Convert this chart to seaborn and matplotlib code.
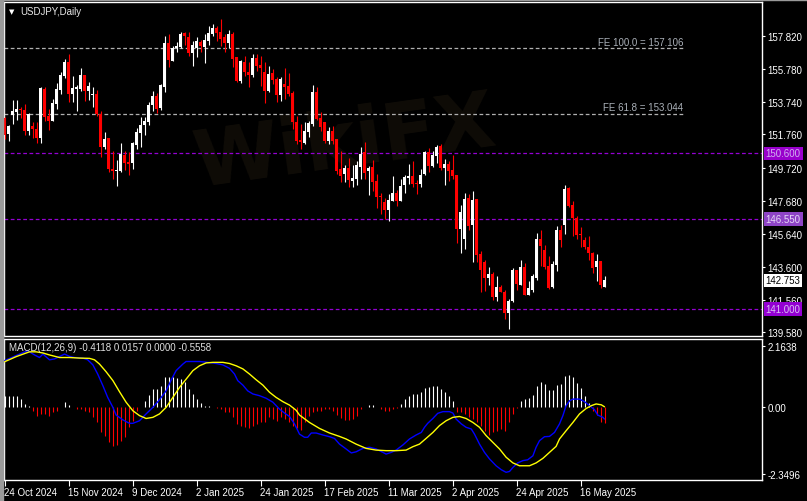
import matplotlib
matplotlib.use("Agg")
import matplotlib.pyplot as plt
from matplotlib.patches import Rectangle
import seaborn as sns

# daily candles, 24 Oct 2024 .. 26 May 2025
opens = [152.78, 151.79, 152.99, 153.17, 153.34, 153.27, 152.00, 152.29, 152.08, 151.55,
         154.57, 152.90, 152.62, 153.64, 154.53, 155.35, 156.22, 154.26, 154.59, 154.57,
         155.43, 154.47, 154.18, 154.26, 153.03, 151.01, 151.55, 149.63, 149.53, 149.53,
         150.52, 150.08, 149.98, 151.11, 151.87, 152.35, 152.51, 153.60, 154.16, 153.38,
         154.71, 157.41, 156.32, 157.08, 157.14, 158.03, 157.80, 156.79, 157.10, 157.47,
         157.18, 157.55, 157.97, 158.34, 158.07, 157.80, 157.41, 157.97, 156.53, 155.08,
         156.22, 155.60, 155.43, 156.48, 156.05, 155.60, 154.43, 155.54, 155.19, 154.20,
         154.88, 154.78, 154.32, 152.55, 151.44, 151.24, 151.94, 152.41, 154.41, 152.76,
         152.51, 151.38, 152.00, 151.48, 149.63, 149.32, 149.69, 148.91, 149.01, 149.78,
         150.70, 149.53, 149.78, 148.91, 147.99, 147.57, 147.10, 147.68, 148.13, 147.68,
         148.67, 149.08, 149.20, 148.77, 148.71, 149.32, 150.70, 149.84, 150.46, 151.07,
         149.69, 149.94, 149.57, 149.26, 145.93, 145.31, 147.84, 146.20, 147.78, 144.39,
         143.91, 142.90, 143.15, 141.71, 142.37, 142.06, 140.74, 141.46, 143.40, 142.49,
         143.56, 141.85, 142.16, 142.90, 145.31, 144.63, 143.67, 142.33, 143.73, 145.87,
         146.20, 148.46, 147.41, 146.61, 145.62, 145.25, 144.84, 144.43, 143.60, 143.97,
         142.37]
highs = [152.86, 152.35, 153.89, 153.89, 153.48, 153.64, 153.11, 152.51, 152.51, 154.71,
         154.67, 153.34, 153.95, 154.94, 155.64, 156.42, 156.73, 155.39, 154.84, 155.87,
         155.43, 155.02, 154.67, 154.51, 153.23, 151.94, 151.55, 150.76, 150.19, 151.24,
         150.76, 150.70, 151.28, 152.16, 152.82, 152.82, 153.75, 154.47, 154.30, 154.88,
         157.84, 157.97, 157.25, 157.49, 158.07, 158.07, 158.07, 157.55, 157.80, 157.60,
         157.97, 158.44, 158.58, 158.44, 158.89, 157.97, 158.21, 158.07, 156.57, 156.36,
         156.63, 156.22, 156.73, 156.73, 156.63, 156.22, 155.97, 155.80, 155.29, 155.29,
         155.87, 155.56, 154.47, 152.92, 152.41, 152.55, 152.62, 154.82, 154.67, 153.13,
         152.51, 152.20, 152.29, 151.48, 150.72, 149.88, 150.31, 149.88, 150.15, 150.97,
         151.28, 149.84, 150.19, 149.32, 148.15, 147.82, 148.09, 149.18, 148.34, 149.01,
         149.26, 149.94, 150.13, 148.95, 149.63, 150.76, 150.93, 150.76, 151.11, 151.18,
         150.25, 150.15, 150.50, 149.26, 147.41, 148.13, 148.09, 148.25, 147.78, 144.59,
         144.01, 143.56, 143.25, 143.05, 142.47, 142.16, 141.61, 143.52, 143.40, 144.01,
         143.81, 142.74, 143.15, 145.68, 145.87, 144.94, 144.28, 143.93, 146.13, 146.18,
         148.64, 148.50, 147.68, 146.75, 146.03, 145.46, 145.52, 144.49, 144.39, 143.97,
         143.05]
lows = [151.48, 151.38, 152.41, 152.66, 152.78, 151.75, 151.75, 151.55, 151.22, 151.22,
        152.62, 152.04, 152.57, 153.34, 154.26, 155.25, 153.75, 153.75, 153.23, 154.43,
        153.85, 153.89, 153.48, 152.92, 150.39, 150.87, 149.43, 149.01, 148.60, 149.43,
        149.59, 149.26, 149.63, 150.87, 150.97, 151.75, 152.35, 153.23, 153.07, 153.27,
        154.36, 155.91, 156.32, 156.87, 157.08, 157.29, 156.59, 156.01, 156.53, 156.83,
        156.18, 157.29, 157.86, 157.55, 157.20, 156.87, 157.10, 155.91, 155.02, 154.94,
        155.39, 154.71, 155.33, 155.70, 154.78, 153.69, 154.36, 154.88, 153.75, 153.85,
        153.95, 154.16, 152.10, 151.18, 150.87, 151.18, 151.59, 152.31, 152.66, 152.00,
        151.22, 151.18, 151.18, 149.32, 148.85, 148.81, 148.50, 148.54, 148.64, 149.01,
        149.01, 148.05, 148.29, 147.22, 146.85, 146.53, 146.44, 147.64, 147.37, 147.64,
        148.13, 148.71, 148.54, 148.09, 148.54, 149.26, 149.47, 149.74, 150.00, 149.57,
        148.67, 148.91, 149.01, 145.04, 144.45, 144.69, 145.87, 143.91, 143.91, 142.02,
        142.08, 142.49, 141.55, 141.50, 142.02, 140.37, 139.76, 141.40, 142.16, 142.49,
        141.85, 141.85, 142.06, 142.78, 143.67, 143.46, 142.23, 142.29, 143.36, 144.80,
        145.62, 147.27, 145.52, 145.31, 144.84, 144.69, 144.01, 143.19, 142.74, 142.29,
        142.37]
closes = [151.75, 152.29, 153.19, 153.34, 153.29, 152.00, 153.03, 152.08, 151.55, 154.63,
          152.86, 152.62, 153.69, 154.55, 155.43, 156.22, 154.26, 154.63, 154.71, 155.43,
          154.47, 154.78, 154.22, 153.03, 151.01, 151.48, 149.63, 149.53, 149.59, 150.56,
          150.00, 149.94, 151.24, 151.92, 152.35, 152.62, 153.60, 154.16, 153.34, 154.82,
          157.41, 156.38, 157.08, 157.20, 157.97, 157.86, 156.79, 157.29, 157.51, 157.22,
          157.60, 158.03, 158.34, 158.03, 157.66, 157.41, 157.97, 156.42, 155.08, 156.32,
          155.60, 155.43, 156.48, 155.97, 155.87, 154.47, 155.50, 155.13, 154.20, 155.19,
          154.67, 154.26, 152.55, 151.34, 151.32, 152.00, 152.47, 154.41, 152.72, 152.25,
          151.38, 152.00, 151.38, 149.53, 149.22, 149.69, 148.97, 149.08, 149.88, 150.56,
          149.39, 149.69, 148.85, 147.92, 147.92, 147.10, 147.72, 148.13, 147.64, 148.58,
          149.12, 149.20, 148.71, 148.73, 149.26, 150.70, 149.84, 150.52, 151.01, 149.69,
          149.94, 149.53, 149.22, 145.93, 146.96, 147.78, 146.13, 147.72, 144.34, 143.40,
          142.90, 143.15, 141.71, 142.37, 142.06, 140.74, 141.50, 143.40, 142.53, 143.56,
          141.85, 142.29, 143.01, 145.31, 144.86, 143.56, 142.29, 143.77, 145.87, 145.25,
          148.40, 147.37, 146.61, 145.58, 145.58, 144.80, 144.43, 143.52, 143.93, 142.49,
          142.75]

# MACD histogram, one value per bar
macd_hist = [0.39, 0.39, 0.41, 0.39, 0.29, 0.12, 0.04, -0.12, -0.29, -0.23,
             -0.23, -0.29, -0.18, -0.12, 0.0, 0.20, 0.08, 0.0, -0.04, -0.06,
             -0.12, -0.18, -0.35, -0.53, -0.88, -0.99, -1.23, -1.35, -1.32, -1.17,
             -1.05, -0.70, -0.47, -0.12, 0.02, 0.23, 0.43, 0.64, 0.64, 0.76,
             1.05, 1.05, 1.05, 1.02, 0.99, 0.90, 0.64, 0.47, 0.29, 0.15,
             0.06, 0.04, 0.0, -0.02, -0.06, -0.18, -0.18, -0.35, -0.58, -0.64,
             -0.70, -0.74, -0.64, -0.58, -0.53, -0.53, -0.35, -0.41, -0.47, -0.35,
             -0.41, -0.53, -0.64, -0.74, -0.78, -0.53, -0.29, -0.18, -0.12, -0.12,
             -0.06, -0.06, -0.12, -0.27, -0.39, -0.44, -0.44, -0.41, -0.29, -0.06,
             0.0, 0.08, 0.08, 0.0, -0.06, -0.12, -0.12, -0.06, -0.02, 0.12,
             0.29, 0.41, 0.47, 0.47, 0.53, 0.67, 0.70, 0.74, 0.74, 0.64,
             0.53, 0.39, 0.23, -0.18, -0.18, -0.23, -0.35, -0.41, -0.53, -0.64,
             -0.82, -0.97, -0.88, -0.82, -0.76, -0.82, -0.53, -0.23, -0.02, 0.23,
             0.29, 0.32, 0.43, 0.74, 0.90, 0.82, 0.62, 0.62, 0.78, 0.82,
             1.11, 1.13, 1.05, 0.85, 0.67, 0.39, 0.14, -0.12, -0.27, -0.50,
             -0.56]

# MACD main line (blue), sampled along the bar axis
macd_bar = [0, 3.75, 5.8, 7.5, 8.75, 9.6, 11.25, 12.5, 15, 16.25,
            17.5, 19.6, 20.8, 22.1, 23.3, 24.6, 25.8, 27.1, 27.9, 29.6,
            31.25, 32.1, 33.75, 35.4, 37.1, 38.75, 40.4, 41.7, 42.9, 44.6,
            45.4, 48.75, 50.8, 52.9, 54.6, 56.25, 57.5, 58.3, 59.6, 60.8,
            62.1, 63.75, 65.4, 67.1, 68.75, 70, 71.25, 72.5, 73.75, 75,
            75.8, 76.7, 77.9, 79.6, 81.25, 82.5, 83.75, 85.4, 86.7, 87.9,
            89.6, 91.25, 92.9, 94.6, 95.4, 96.7, 97.9, 99.6, 101.25, 102.9,
            104.2, 105, 105.8, 107.1, 108.3, 109.6, 111.25, 112.1, 112.9, 114.2,
            115.4, 116.7, 117.5, 118.75, 120, 121.25, 122.9, 124.2, 125.4, 126.25,
            127.1, 128.3, 129.6, 130.8, 132.1, 132.9, 133.75, 135, 136.25, 137.5,
            138.75, 139.6, 140.4, 141.25, 142.1, 143.75, 145, 146.25, 147.5, 148.3,
            149.6, 150]
macd_main = [1.64, 1.87, 1.99, 1.84, 1.75, 1.87, 1.67, 1.70, 1.87, 1.79,
             1.75, 1.73, 1.67, 1.49, 1.17, 0.76, 0.35, 0.0, -0.27, -0.44,
             -0.56, -0.56, -0.47, -0.23, 0.0, 0.27, 0.58, 0.97, 1.29, 1.52,
             1.61, 1.61, 1.58, 1.54, 1.49, 1.37, 1.17, 0.94, 0.78, 0.58,
             0.47, 0.41, 0.32, 0.18, -0.06, -0.20, -0.32, -0.58, -0.94, -1.05,
             -1.05, -0.90, -0.90, -0.97, -1.03, -1.09, -1.29, -1.46, -1.60, -1.56,
             -1.44, -1.40, -1.46, -1.58, -1.64, -1.58, -1.50, -1.32, -1.11, -0.97,
             -0.88, -0.70, -0.56, -0.39, -0.21, -0.15, -0.15, -0.20, -0.41, -0.58,
             -0.70, -0.76, -0.94, -1.29, -1.58, -1.81, -2.05, -2.19, -2.28, -2.25,
             -2.11, -1.95, -1.87, -1.84, -1.70, -1.40, -1.17, -1.03, -1.02, -0.88,
             -0.58, -0.29, 0.06, 0.23, 0.29, 0.29, 0.20, 0.06, -0.08, -0.27,
             -0.35, -0.41]

# MACD signal line (yellow)
signal_bar = [0, 2.9, 6.25, 7.9, 9.6, 11.25, 13.75, 16.25, 18.75, 21.25,
              22.5, 23.75, 25.4, 27.1, 28.75, 30.4, 32.1, 33.75, 35.4, 37.1,
              38.75, 40.4, 42.1, 43.75, 45.4, 47.1, 48.75, 50.4, 52.1, 54.6,
              56.25, 57.9, 59.6, 61.25, 62.9, 64.6, 66.25, 67.9, 69.6, 71.25,
              72.9, 73.75, 76.25, 78.75, 81.25, 83.75, 85.4, 87.9, 90.4, 92.9,
              95.4, 97.9, 100.4, 102.1, 103.75, 105.4, 107.1, 108.75, 110.4, 112.1,
              113.75, 115.4, 117.1, 118.75, 120.4, 122.1, 123.75, 125.4, 127.1, 128.75,
              131.25, 132.9, 134.6, 136.25, 137.9, 138.75, 140.4, 142.1, 143.75, 145.4,
              146.7, 147.9, 149.2, 150]
macd_signal = [1.60, 1.78, 1.95, 1.95, 1.91, 1.84, 1.75, 1.75, 1.73, 1.72,
               1.67, 1.52, 1.25, 0.94, 0.55, 0.18, -0.12, -0.29, -0.39, -0.35,
               -0.23, 0.0, 0.35, 0.70, 0.99, 1.29, 1.46, 1.56, 1.58, 1.58,
               1.54, 1.46, 1.35, 1.17, 0.97, 0.78, 0.53, 0.35, 0.20, 0.08,
               -0.10, -0.27, -0.53, -0.74, -0.90, -1.02, -1.11, -1.29, -1.44, -1.50,
               -1.52, -1.52, -1.50, -1.38, -1.29, -1.09, -0.88, -0.64, -0.47, -0.35,
               -0.32, -0.39, -0.53, -0.70, -0.99, -1.23, -1.46, -1.75, -1.95, -2.05,
               -2.05, -1.95, -1.79, -1.58, -1.37, -1.11, -0.82, -0.53, -0.23, -0.04,
               0.06, 0.12, 0.09, 0.02]

date_labels = ["24 Oct 2024", "15 Nov 2024", "9 Dec 2024", "2 Jan 2025", "24 Jan 2025",
               "17 Feb 2025", "11 Mar 2025", "2 Apr 2025", "24 Apr 2025", "16 May 2025"]
date_bars = [0, 16, 32, 48, 64, 80, 96, 112, 128, 144]
price_ticks = [157.820, 155.780, 153.740, 151.760, 149.720, 147.680,
               145.640, 143.600, 141.560, 139.580]
level_prices = [150.600, 146.550, 141.000]
fe_names = ["FE 100.0", "FE 61.8"]
fe_prices = [157.106, 153.044]
last_price = 142.753
macd_ticks = [2.1638, 0.0, -2.3496]
macd_tick_labels = ["2.1638", "0.00", "-2.3496"]
macd_header = "MACD(12,26,9) -0.4118 0.0157 0.0000 -0.5558"
title = "USDJPY,Daily"

W, H = 807, 502
RED = "#ff0000"
PURPLE = "#9400d3"
PX = 0.8  # about one pixel, in points

sns.set_theme(style="dark", rc={"axes.facecolor": "black", "figure.facecolor": "black"})
plt.rcParams["font.family"] = ["Liberation Sans", "DejaVu Sans"]

fig = plt.figure(figsize=(W / 100, H / 100), dpi=100)


def px_axes(x0, y0, x1, y1):
    return fig.add_axes([x0 / W, 1 - y1 / H, (x1 - x0) / W, (y1 - y0) / H])


ax = px_axes(4, 3, 762, 337)
ax2 = px_axes(4, 340, 762, 481)

# frame bits of the terminal window
fig.patches.append(Rectangle((0, 0), 2.5 / W, 1, transform=fig.transFigure,
                             color="#9a9a9a", zorder=0))
fig.patches.append(Rectangle((0, 1 - 1.2 / H), 1, 1.2 / H, transform=fig.transFigure,
                             color="#9a9a9a", zorder=0))

# 4 px per bar; bar centres fall on pixel centres
xmin = -0.125
xmax = xmin + 758 / 4
n = len(closes)
bars = list(range(n))

# ---- price panel ----
ax.text(0.45, 0.58, "WikiFX", transform=ax.transAxes, fontsize=56, fontweight="bold",
        color="#0f0c07", rotation=8, ha="center", va="center", zorder=0.5,
        family="DejaVu Sans")

colors = ["white" if c >= o else RED for o, c in zip(opens, closes)]
ax.vlines(bars, lows, highs, colors=colors, lw=PX, zorder=3)
body_low = [min(o, c) for o, c in zip(opens, closes)]
body_h = [max(abs(c - o), 0.06) for o, c in zip(opens, closes)]
ax.bar(bars, body_h, bottom=body_low, width=0.75, color=colors, linewidth=0, zorder=4)

for lvl in level_prices:
    ax.axhline(lvl, color=PURPLE, lw=0.9, dashes=(3, 2), zorder=2)

fe_end = 169.75
for name, lvl in zip(fe_names, fe_prices):
    ax.hlines(lvl, xmin, fe_end, color="#b0b0b0", lw=0.9, linestyles=(0, (3, 2)), zorder=2)
    ax.text(fe_end, lvl + 0.08, f"{name} = {lvl:.3f}", ha="right", va="bottom",
            color="#aab0b8", fontsize=7, zorder=5)

ax.set_xlim(xmin, xmax)
ax.set_ylim(139.32, 159.94)
ax.set_xticks([])
ax.yaxis.tick_right()
ax.set_yticks(price_ticks)
ax.set_yticklabels([f"{t:.3f}" for t in price_ticks])
ax.tick_params(axis="y", colors="white", length=2.5, width=0.8, pad=1.5, labelsize=7,
               right=True, left=False)

ytr = ax.get_yaxis_transform()
level_styles = [("#9900cc", "#d0b0f0"), ("#8e44c6", "#e6d8f6"), ("#9400d3", "#d8c0f0")]
for lvl, (bg, fg) in zip(level_prices, level_styles):
    ax.text(1.005, lvl, f"{lvl:.3f}", transform=ytr, ha="left", va="center", fontsize=7,
            color=fg, clip_on=False, zorder=10,
            bbox=dict(boxstyle="square,pad=0.18", fc=bg, ec="none"))
ax.text(1.005, last_price, f"{last_price:.3f}", transform=ytr, ha="left", va="center",
        fontsize=7, color="black", clip_on=False, zorder=10,
        bbox=dict(boxstyle="square,pad=0.18", fc="white", ec="none"))

# ---- MACD panel ----
hist_colors = ["white" if h > 0 else RED for h in macd_hist]
ax2.vlines(bars, 0, macd_hist, colors=hist_colors, lw=PX, zorder=2)
sns.lineplot(x=macd_bar, y=macd_main, ax=ax2, color="#0000ff", lw=1.0, zorder=3)
sns.lineplot(x=signal_bar, y=macd_signal, ax=ax2, color="#ffff00", lw=1.0, zorder=4)

ax2.set_xlim(xmin, xmax)
ax2.set_ylim(-2.55, 2.40)
ax2.yaxis.tick_right()
ax2.set_yticks(macd_ticks)
ax2.set_yticklabels(macd_tick_labels)
ax2.tick_params(axis="y", colors="white", length=2.5, width=0.8, pad=1.5, labelsize=7,
                right=True, left=False)
ax2.set_xticks(date_bars)
ax2.set_xticklabels(date_labels, ha="left")
ax2.tick_params(axis="x", colors="white", length=4, width=0.8, pad=1, labelsize=7,
                bottom=True)

for a in (ax, ax2):
    a.grid(False)
    a.set_xlabel("")
    a.set_ylabel("")
    for sp in a.spines.values():
        sp.set_visible(True)
        sp.set_color("white")
        sp.set_linewidth(1.0)

fig.text(9 / W, 1 - 12 / H, "\u25bc", fontsize=5, color="white", va="center",
         family="DejaVu Sans")
fig.text(20 / W, 1 - 12 / H, title, fontsize=7, color="#e8e8e8", va="center")
fig.text(9 / W, 1 - 348 / H, macd_header, fontsize=7, color="#e0e0e0", va="center")

fig.savefig("out.png", dpi=100, facecolor="black")
